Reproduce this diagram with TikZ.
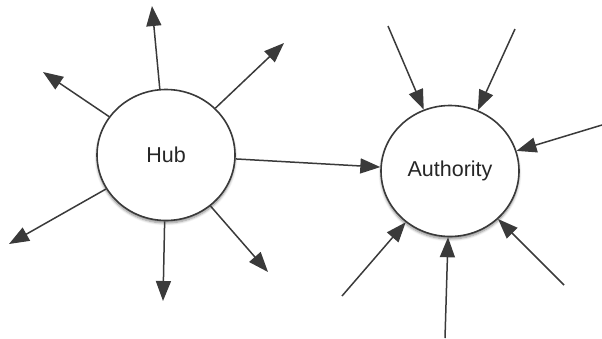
\documentclass[tikz,border=0pt]{standalone}
\usepackage{fontspec}
\setmainfont{Liberation Sans}
\usetikzlibrary{arrows.meta,shapes.geometric,shadows.blur}
\definecolor{linegray}{HTML}{3A3A3A}
\definecolor{textgray}{HTML}{262626}
\tikzset{
  bubble/.style={ellipse, draw=linegray, line width=1.6pt, fill=white,
    minimum width=138pt, minimum height=131pt, inner sep=0pt,
    text=textgray, font=\fontsize{21.5}{21.5}\selectfont,
    blur shadow={shadow xshift=0pt, shadow yshift=-2.5pt, shadow blur steps=6, shadow opacity=45, shadow blur radius=2.5pt}},
  link/.style={draw=linegray, line width=1.5pt,
    -{Triangle[length=20pt,width=15pt]}, shorten >=0pt}
}
\begin{document}
\begin{tikzpicture}[x=1pt,y=-1pt]
\useasboundingbox (0,0) rectangle (602,338);
\node[bubble] (hub) at (166,155) {Hub};
\node[bubble] (auth) at (450,171) {Authority};
% hub outgoing free ends
\coordinate (h1) at (152,6);
\coordinate (h2) at (43,72);
\coordinate (h3) at (284,43);
\coordinate (h4) at (9,244);
\coordinate (h5) at (163,301);
\coordinate (h6) at (268,272);
\foreach \p in {h1,h2,h3,h4,h5,h6}{\draw[link] (hub) -- (\p);}
% authority incoming free ends
\coordinate (a1) at (388,26);
\coordinate (a2) at (515,29);
\coordinate (a3) at (602,125);
\coordinate (a4) at (342,296);
\coordinate (a5) at (445,338);
\coordinate (a6) at (564,285);
\foreach \p in {a1,a2,a3,a4,a5,a6}{\draw[link] (\p) -- (auth);}
\draw[link] (hub) -- (auth);
\end{tikzpicture}
\end{document}
